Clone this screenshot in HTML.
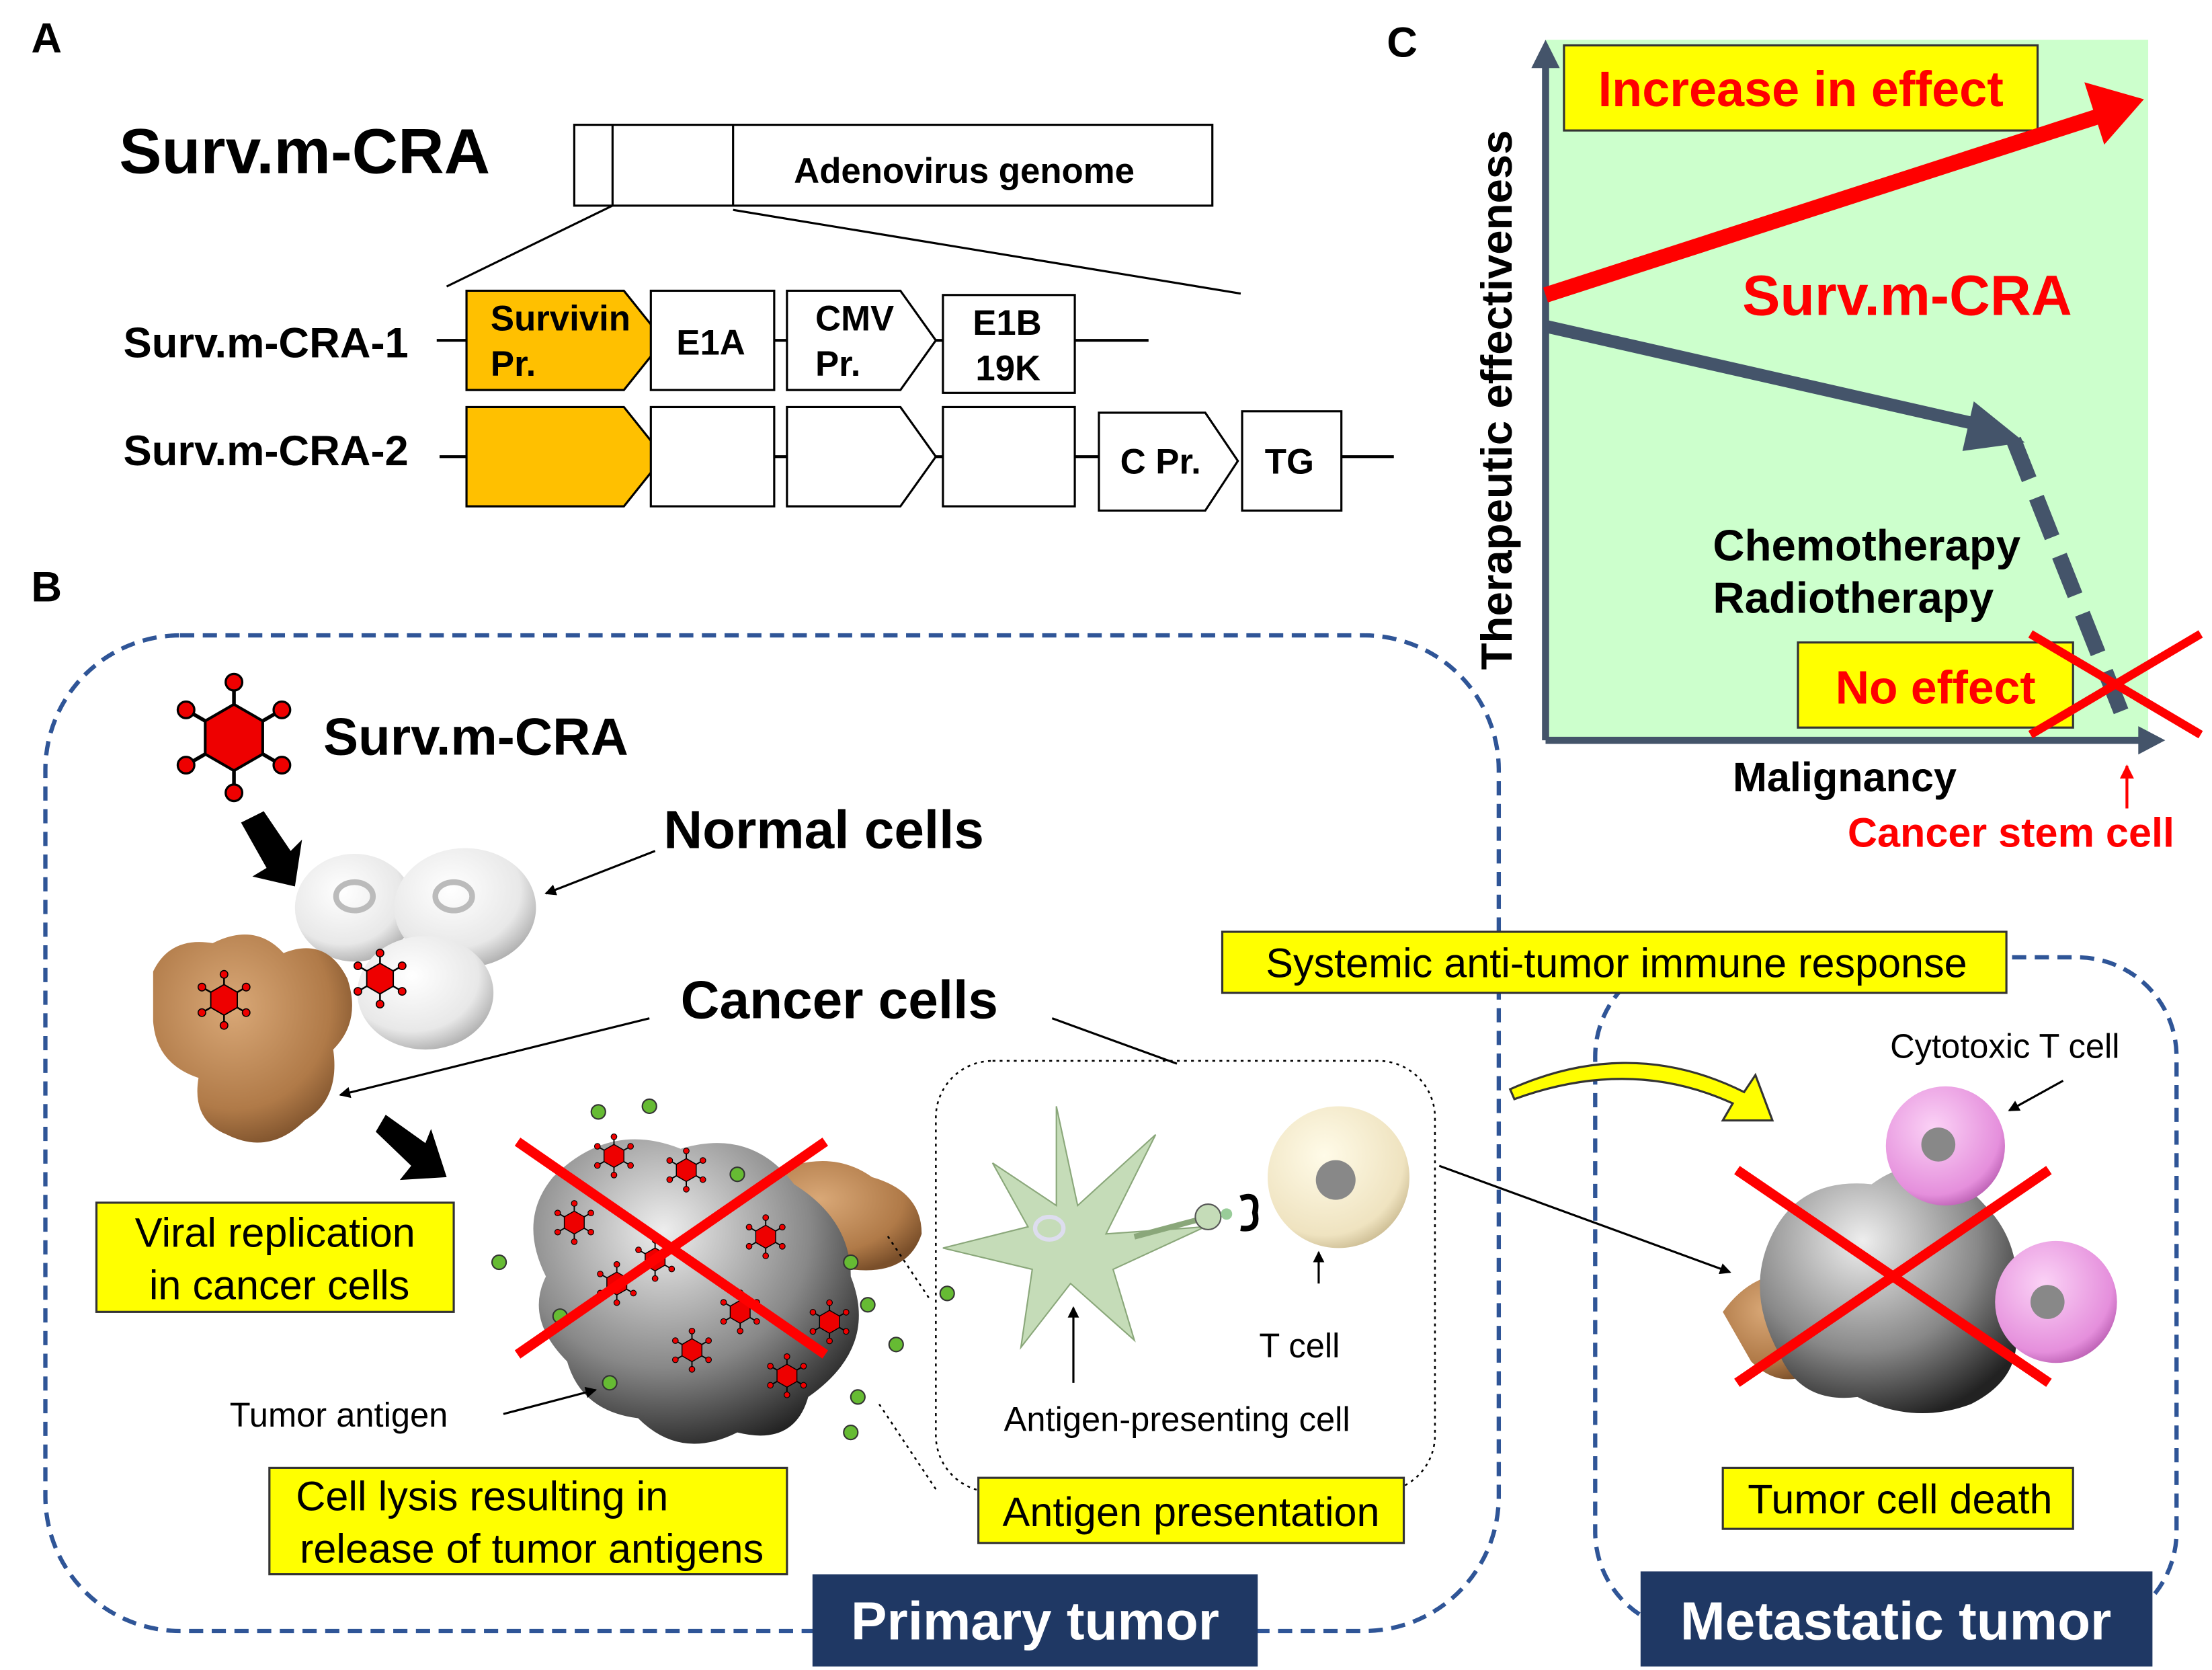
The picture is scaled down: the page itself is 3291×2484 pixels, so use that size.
<!DOCTYPE html>
<html><head><meta charset="utf-8"><style>
html,body{margin:0;padding:0;background:#fff}
svg{display:block}
text{font-family:"Liberation Sans",Arial,sans-serif}
.b{font-weight:bold}
</style></head><body>
<svg width="3291" height="2484" viewBox="0 0 1560 1177.5" preserveAspectRatio="none" xmlns="http://www.w3.org/2000/svg">
<defs>
<radialGradient id="wc" cx="40%" cy="35%" r="70%"><stop offset="0" stop-color="#fff"/><stop offset="0.7" stop-color="#e8e8e8"/><stop offset="1" stop-color="#aaa"/></radialGradient>
<radialGradient id="br" cx="40%" cy="35%" r="70%"><stop offset="0" stop-color="#d9a877"/><stop offset="0.7" stop-color="#b07a48"/><stop offset="1" stop-color="#7a4f2a"/></radialGradient>
<radialGradient id="gr" cx="40%" cy="30%" r="75%"><stop offset="0" stop-color="#eee"/><stop offset="0.6" stop-color="#888"/><stop offset="1" stop-color="#222"/></radialGradient>
<radialGradient id="tc" cx="40%" cy="35%" r="70%"><stop offset="0" stop-color="#fffbe8"/><stop offset="0.8" stop-color="#efe3c0"/><stop offset="1" stop-color="#c9b98f"/></radialGradient>
<radialGradient id="pk" cx="40%" cy="35%" r="70%"><stop offset="0" stop-color="#fbd2f6"/><stop offset="0.8" stop-color="#e58fdc"/><stop offset="1" stop-color="#b85cb0"/></radialGradient>
<g id="vir">
<g stroke="#000" stroke-width="2"><line x1="0" y1="-30" x2="0" y2="30"/><line x1="-26" y1="-15" x2="26" y2="15"/><line x1="-26" y1="15" x2="26" y2="-15"/></g>
<polygon points="0,-18 15.6,-9 15.6,9 0,18 -15.6,9 -15.6,-9" fill="#e00" stroke="#000" stroke-width="1.5"/>
<g fill="#e00" stroke="#000" stroke-width="1.2"><circle cx="0" cy="-30" r="4.5"/><circle cx="0" cy="30" r="4.5"/><circle cx="-26" cy="-15" r="4.5"/><circle cx="26" cy="15" r="4.5"/><circle cx="-26" cy="15" r="4.5"/><circle cx="26" cy="-15" r="4.5"/></g>
</g>
<marker id="ah" markerWidth="8" markerHeight="8" refX="7" refY="4" orient="auto" markerUnits="userSpaceOnUse"><path d="M0,0 L8,4 L0,8 z" fill="#000"/></marker>
<marker id="ahr" markerWidth="10" markerHeight="10" refX="9" refY="5" orient="auto" markerUnits="userSpaceOnUse"><path d="M0,0 L10,5 L0,10 z" fill="#f00"/></marker>
</defs>

<text x="22" y="37" font-size="30" class="b">A</text>
<text x="22" y="424" font-size="30" class="b">B</text>
<text x="978" y="40" font-size="30" class="b">C</text>

<text x="84" y="122" font-size="45" class="b">Surv.m-CRA</text>
<rect x="405" y="88" width="450" height="57" fill="#fff" stroke="#000" stroke-width="1.5"/>
<line x1="432" y1="88" x2="432" y2="145" stroke="#000" stroke-width="1.5"/>
<line x1="517" y1="88" x2="517" y2="145" stroke="#000" stroke-width="1.5"/>
<text x="680" y="129" font-size="25" class="b" text-anchor="middle">Adenovirus genome</text>
<line x1="432" y1="145" x2="315" y2="202" stroke="#000" stroke-width="1.5"/>
<line x1="517" y1="148" x2="875" y2="207" stroke="#000" stroke-width="1.5"/>

<g stroke="#000" stroke-width="2">
<line x1="308" y1="240" x2="329" y2="240"/><line x1="546" y1="240" x2="555" y2="240"/><line x1="660" y1="240" x2="665" y2="240"/><line x1="758" y1="240" x2="810" y2="240"/>
<line x1="310" y1="322" x2="329" y2="322"/><line x1="546" y1="322" x2="555" y2="322"/><line x1="660" y1="322" x2="665" y2="322"/><line x1="758" y1="322" x2="775" y2="322"/><line x1="946" y1="322" x2="983" y2="322"/>
</g>
<text x="87" y="252" font-size="30" class="b">Surv.m-CRA-1</text>
<text x="87" y="328" font-size="30" class="b">Surv.m-CRA-2</text>
<g stroke="#000" stroke-width="1.5">
<polygon points="329,205 440,205 468,240 440,275 329,275" fill="#ffc000"/>
<rect x="459" y="205" width="87" height="70" fill="#fff"/>
<polygon points="555,205 635,205 660,240 635,275 555,275" fill="#fff"/>
<rect x="665" y="208" width="93" height="69" fill="#fff"/>
<polygon points="329,287 440,287 468,322 440,357 329,357" fill="#ffc000"/>
<rect x="459" y="287" width="87" height="70" fill="#fff"/>
<polygon points="555,287 635,287 660,322 635,357 555,357" fill="#fff"/>
<rect x="665" y="287" width="93" height="70" fill="#fff"/>
<polygon points="775,291 850,291 873,325 850,360 775,360" fill="#fff"/>
<rect x="876" y="290" width="70" height="70" fill="#fff"/>
</g>
<g font-size="25" class="b">
<text x="346" y="233">Survivin</text><text x="346" y="265">Pr.</text>
<text x="477" y="250">E1A</text>
<text x="575" y="233">CMV</text><text x="575" y="265">Pr.</text>
<text x="686" y="236">E1B</text><text x="688" y="268">19K</text>
<text x="790" y="334">C Pr.</text>
<text x="892" y="334">TG</text>
</g>

<rect x="1090" y="28" width="425" height="494" fill="#ccffcc"/>
<g stroke="#44546a" stroke-width="5" fill="none">
<line x1="1090" y1="522" x2="1090" y2="45"/>
<line x1="1090" y1="522" x2="1510" y2="522"/>
</g>
<polygon points="1080,48 1090,28 1100,48" fill="#44546a"/>
<polygon points="1508,512 1527,522 1508,532" fill="#44546a"/>
<text transform="translate(1066,282) rotate(-90)" font-size="31" class="b" text-anchor="middle">Therapeutic effectiveness</text>
<rect x="1103" y="32" width="334" height="60" fill="#ffff00" stroke="#333" stroke-width="1.5"/>
<text x="1270" y="75" font-size="35" class="b" fill="#f00" text-anchor="middle">Increase in effect</text>
<line x1="1090" y1="208" x2="1480" y2="82" stroke="#f00" stroke-width="11"/>
<polygon points="1470,58 1512,70 1484,102" fill="#f00"/>
<text x="1345" y="222" font-size="40" class="b" fill="#f00" text-anchor="middle">Surv.m-CRA</text>
<line x1="1090" y1="230" x2="1398" y2="300" stroke="#44546a" stroke-width="9"/>
<polygon points="1392,283 1428,312 1384,318" fill="#44546a"/>
<line x1="1420" y1="310" x2="1500" y2="512" stroke="#44546a" stroke-width="11" stroke-dasharray="30,14"/>
<text x="1208" y="395" font-size="31" class="b">Chemotherapy</text>
<text x="1208" y="432" font-size="31" class="b">Radiotherapy</text>
<rect x="1268" y="453" width="194" height="60" fill="#ffff00" stroke="#333" stroke-width="1.5"/>
<text x="1365" y="496" font-size="33" class="b" fill="#f00" text-anchor="middle">No effect</text>
<g stroke="#f00" stroke-width="6"><line x1="1432" y1="447" x2="1552" y2="518"/><line x1="1432" y1="518" x2="1552" y2="447"/></g>
<text x="1222" y="558" font-size="29" class="b">Malignancy</text>
<line x1="1500" y1="570" x2="1500" y2="540" stroke="#f00" stroke-width="2" marker-end="url(#ahr)"/>
<text x="1303" y="597" font-size="29" class="b" fill="#f00">Cancer stem cell</text>

<rect x="32" y="448" width="1025" height="702" rx="95" fill="none" stroke="#2f5597" stroke-width="3" stroke-dasharray="10,6"/>
<rect x="1125" y="675" width="410" height="475" rx="70" fill="none" stroke="#2f5597" stroke-width="3" stroke-dasharray="10,6"/>

<use href="#vir" transform="translate(165,520) scale(1.3)"/>
<text x="228" y="532" font-size="37" class="b">Surv.m-CRA</text>
<polygon points="170,580 186,572 205,600 213,592 208,625 178,618 188,612" fill="#000"/>
<polygon points="265,798 272,786 300,806 304,796 315,830 282,832 290,822" fill="#000"/>

<ellipse cx="250" cy="640" rx="42" ry="38" fill="url(#wc)"/>
<ellipse cx="328" cy="640" rx="50" ry="42" fill="url(#wc)"/>
<ellipse cx="300" cy="700" rx="48" ry="40" fill="url(#wc)"/>
<ellipse cx="250" cy="632" rx="13" ry="10" fill="none" stroke="#bbb" stroke-width="4"/>
<ellipse cx="320" cy="632" rx="13" ry="10" fill="none" stroke="#bbb" stroke-width="4"/>
<path d="M108,685 Q120,660 150,665 Q180,650 200,672 Q230,660 245,690 Q255,720 235,740 Q240,775 215,790 Q190,815 160,800 Q135,790 140,760 Q110,750 108,720 Z" fill="url(#br)"/>
<use href="#vir" transform="translate(158,705) scale(0.6)"/>
<use href="#vir" transform="translate(268,690) scale(0.6)"/>
<text x="468" y="598" font-size="38" class="b">Normal cells</text>
<line x1="462" y1="600" x2="385" y2="630" stroke="#000" stroke-width="1.5" marker-end="url(#ah)"/>
<text x="480" y="718" font-size="38" class="b">Cancer cells</text>
<line x1="458" y1="718" x2="240" y2="772" stroke="#000" stroke-width="1.5" marker-end="url(#ah)"/>
<line x1="742" y1="718" x2="830" y2="750" stroke="#000" stroke-width="1.5"/>

<path d="M530,835 Q580,805 615,830 Q650,840 650,870 Q640,900 600,895 Z" fill="url(#br)"/>
<path d="M390,830 Q430,790 480,810 Q530,795 560,835 Q600,860 600,900 Q620,950 570,985 Q560,1020 520,1010 Q480,1030 450,1000 Q410,995 400,960 Q370,930 385,900 Q365,860 390,830 Z" fill="url(#gr)"/>
<g>
<use href="#vir" transform="translate(433,815) scale(0.45)"/>
<use href="#vir" transform="translate(484,825) scale(0.45)"/>
<use href="#vir" transform="translate(405,862) scale(0.45)"/>
<use href="#vir" transform="translate(462,888) scale(0.45)"/>
<use href="#vir" transform="translate(540,872) scale(0.45)"/>
<use href="#vir" transform="translate(435,905) scale(0.45)"/>
<use href="#vir" transform="translate(522,925) scale(0.45)"/>
<use href="#vir" transform="translate(585,932) scale(0.45)"/>
<use href="#vir" transform="translate(488,952) scale(0.45)"/>
<use href="#vir" transform="translate(555,970) scale(0.45)"/>
</g>
<g fill="#6b3" stroke="#333" stroke-width="1">
<circle cx="422" cy="784" r="5"/><circle cx="458" cy="780" r="5"/><circle cx="352" cy="890" r="5"/><circle cx="520" cy="828" r="5"/><circle cx="600" cy="890" r="5"/><circle cx="612" cy="920" r="5"/><circle cx="668" cy="912" r="5"/><circle cx="632" cy="948" r="5"/><circle cx="605" cy="985" r="5"/><circle cx="430" cy="975" r="5"/><circle cx="600" cy="1010" r="5"/><circle cx="395" cy="928" r="5"/>
</g>
<g stroke="#f00" stroke-width="7"><line x1="365" y1="805" x2="582" y2="955"/><line x1="365" y1="955" x2="582" y2="805"/></g>
<text x="162" y="1006" font-size="24">Tumor antigen</text>
<line x1="355" y1="997" x2="420" y2="980" stroke="#000" stroke-width="1.5" marker-end="url(#ah)"/>

<rect x="660" y="748" width="352" height="304" rx="40" fill="none" stroke="#000" stroke-width="1.2" stroke-dasharray="2,3"/>
<line x1="655" y1="915" x2="625" y2="870" stroke="#000" stroke-width="1.2" stroke-dasharray="2,3"/>
<line x1="660" y1="1050" x2="620" y2="990" stroke="#000" stroke-width="1.2" stroke-dasharray="2,3"/>
<polygon points="745,780 760,850 815,800 780,870 850,865 785,895 800,945 755,905 720,950 728,895 665,880 725,865 700,820 745,850" fill="#c5dcb8" stroke="#8aa77a" stroke-width="1"/>
<ellipse cx="740" cy="866" rx="10" ry="8" fill="none" stroke="#dde" stroke-width="3"/>
<line x1="800" y1="872" x2="845" y2="860" stroke="#8aa77a" stroke-width="4"/>
<circle cx="852" cy="858" r="9" fill="#c5dcb8" stroke="#555"/>
<circle cx="865" cy="856" r="4" fill="#9c9"/>
<path d="M875,845 Q888,840 885,855 Q888,868 875,866" fill="none" stroke="#000" stroke-width="4"/>
<circle cx="944" cy="830" r="50" fill="url(#tc)"/>
<circle cx="942" cy="832" r="14" fill="#888"/>
<line x1="930" y1="905" x2="930" y2="883" stroke="#000" stroke-width="1.5" marker-end="url(#ah)"/>
<text x="888" y="957" font-size="24">T cell</text>
<line x1="757" y1="975" x2="757" y2="922" stroke="#000" stroke-width="1.5" marker-end="url(#ah)"/>
<text x="708" y="1009" font-size="24">Antigen-presenting cell</text>
<line x1="1015" y1="822" x2="1220" y2="897" stroke="#000" stroke-width="1.5" marker-end="url(#ah)"/>

<g fill="#ffff00" stroke="#333" stroke-width="1.5">
<rect x="68" y="848" width="252" height="77"/>
<rect x="190" y="1035" width="365" height="75"/>
<rect x="690" y="1042" width="300" height="46"/>
<rect x="862" y="657" width="553" height="43"/>
<rect x="1215" y="1035" width="247" height="43"/>
</g>
<g font-size="29" text-anchor="middle">
<text x="194" y="879">Viral replication</text><text x="197" y="916">in cancer cells</text>
<text x="340" y="1065">Cell lysis resulting in</text><text x="375" y="1102">release of tumor antigens</text>
<text x="840" y="1076">Antigen presentation</text>
<text x="1140" y="689">Systemic anti-tumor immune response</text>
<text x="1340" y="1067">Tumor cell death</text>
</g>

<path d="M1065,768 Q1150,730 1230,770 L1238,758 L1250,790 L1215,790 L1222,778 Q1150,745 1068,775 Z" fill="#ffff00" stroke="#333" stroke-width="1.5"/>

<path d="M1215,925 Q1240,890 1280,900 L1290,960 Q1260,985 1235,960 Z" fill="url(#br)"/>
<path d="M1250,870 Q1270,830 1320,835 Q1360,805 1400,850 Q1430,880 1420,930 Q1430,970 1390,990 Q1350,1005 1310,985 Q1270,990 1255,955 Q1230,910 1250,870 Z" fill="url(#gr)"/>
<circle cx="1372" cy="808" r="42" fill="url(#pk)"/>
<circle cx="1367" cy="807" r="12" fill="#888"/>
<circle cx="1450" cy="918" r="43" fill="url(#pk)"/>
<circle cx="1444" cy="918" r="12" fill="#888"/>
<g stroke="#f00" stroke-width="7"><line x1="1225" y1="825" x2="1445" y2="975"/><line x1="1225" y1="975" x2="1445" y2="825"/></g>
<text x="1333" y="746" font-size="24">Cytotoxic T cell</text>
<line x1="1455" y1="762" x2="1417" y2="783" stroke="#000" stroke-width="1.5" marker-end="url(#ah)"/>

<rect x="573" y="1110" width="314" height="65" fill="#1f3864"/>
<text x="730" y="1156" font-size="38" class="b" fill="#fff" text-anchor="middle">Primary tumor</text>
<rect x="1157" y="1108" width="361" height="67" fill="#1f3864"/>
<text x="1337" y="1156" font-size="38" class="b" fill="#fff" text-anchor="middle">Metastatic tumor</text>
</svg>
</body></html>
